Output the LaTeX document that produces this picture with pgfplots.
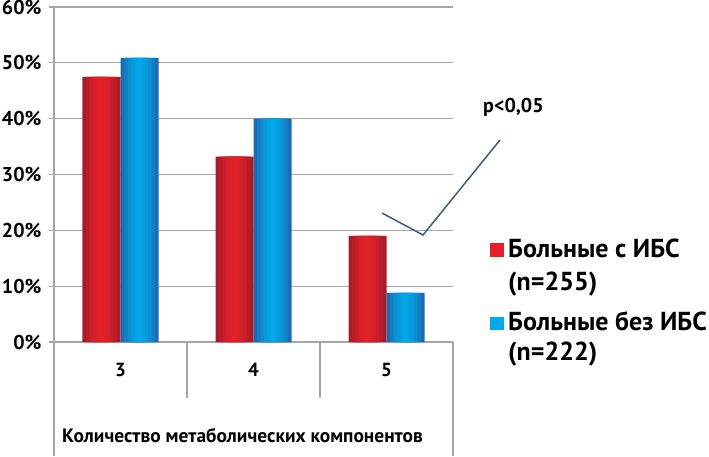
\documentclass[border=0pt]{standalone}
\usepackage{fontspec}
\setmainfont{PT Sans}
\usepackage{pgfplots}
\pgfplotsset{compat=1.18}

\definecolor{redE}{HTML}{A81B2B}
\definecolor{redC}{HTML}{E52128}
\definecolor{bluE}{HTML}{1C6CB3}
\definecolor{bluC}{HTML}{00A9E8}
\definecolor{gridc}{HTML}{A6A6A6}
\definecolor{chk}{HTML}{3F5A7E}

% values (%)
\pgfplotstableread{
x  ibs   noibs
1  47.5  50.9
2  33.2  40.0
3  19.0  8.8
}\datatable

% one bar layer: width, colour
\newcommand{\redlayer}[2]{\addplot[ybar, bar width=#1pt, bar shift=-19pt, draw=none, fill=#2] table[x=x,y=ibs] {\datatable};}
\newcommand{\blulayer}[2]{\addplot[ybar, bar width=#1pt, bar shift=19pt, draw=none, fill=#2] table[x=x,y=noibs] {\datatable};}

\begin{document}
\begin{tikzpicture}[x=1pt,y=1pt]
\begin{axis}[
    scale only axis,
    width=399pt, height=335pt,
    xmin=0.5, xmax=3.5,
    ymin=0, ymax=60,
    ytick={0,10,...,60},
    yticklabel={\pgfmathprintnumber{\tick}\%},
    /pgf/number format/assume math mode=true,
    yticklabel style={font=\fontsize{20}{20}\selectfont\bfseries, xshift=-4pt},
    xtick=\empty,
    ymajorgrids,
    grid style={gridc, line width=1.2pt},
    axis x line=none,
    axis y line*=left,
    y axis line style={draw=none},
    major tick style={gridc, line width=1.2pt},
    major tick length=5pt,
    tick pos=left,
    ytick align=outside,
    clip=false,
]
% shaded bars built from narrowing layers
\redlayer{38}{redE}
\redlayer{31}{redC!30!redE}
\redlayer{24}{redC!55!redE}
\redlayer{17}{redC!75!redE}
\redlayer{10}{redC!90!redE}
\redlayer{4}{redC}
\blulayer{38}{bluE}
\blulayer{31}{bluC!30!bluE}
\blulayer{24}{bluC!55!bluE}
\blulayer{17}{bluC!75!bluE}
\blulayer{10}{bluC!90!bluE}
\blulayer{4}{bluC}
% table lines
\draw[gridc, line width=1.2pt] (axis cs:0.5,60) -- (axis cs:0.5,-20.5);
\draw[gridc, line width=1.2pt] (axis cs:3.5,0) -- (axis cs:3.5,-20.5);
\draw[gridc, line width=1.2pt] (axis cs:1.5,0) -- (axis cs:1.5,-10);
\draw[gridc, line width=1.2pt] (axis cs:2.5,0) -- (axis cs:2.5,-10);
\node[font=\fontsize{19}{19}\selectfont\bfseries] at (axis cs:1,-5.0) {3};
\node[font=\fontsize{19}{19}\selectfont\bfseries] at (axis cs:2,-5.0) {4};
\node[font=\fontsize{19}{19}\selectfont\bfseries] at (axis cs:3,-5.0) {5};
\node[anchor=west, inner sep=0, font=\fontsize{19.4}{19.4}\selectfont\bfseries] at (axis cs:0.56,-16.7) {Количество метаболических компонентов};
\coordinate (O) at (axis cs:0.5,0);
\end{axis}
\begin{scope}[shift={(O)}]
% significance mark
\draw[chk, line width=1.5pt] (328,129) -- (369,107) -- (446,202);
\node[anchor=base west, inner sep=0, font=\fontsize{20}{20}\selectfont\bfseries] at (429,230) {p<0,05};
% legend
\fill[redC] (436,85) rectangle (450,99);
\fill[bluC] (436,12) rectangle (450,25);
\node[anchor=base west, inner sep=0, font=\fontsize{26}{26}\selectfont\bfseries] at (454,85) {Больные с ИБС};
\node[anchor=base west, inner sep=0, font=\fontsize{26}{26}\selectfont\bfseries] at (454,52) {(n=255)};
\node[anchor=base west, inner sep=0, font=\fontsize{26}{26}\selectfont\bfseries] at (454,12) {Больные без ИБС};
\node[anchor=base west, inner sep=0, font=\fontsize{26}{26}\selectfont\bfseries] at (454,-18) {(n=222)};
\pgfresetboundingbox
\useasboundingbox (-54,-114) rectangle (655,342);
\end{scope}
\end{tikzpicture}
\end{document}
